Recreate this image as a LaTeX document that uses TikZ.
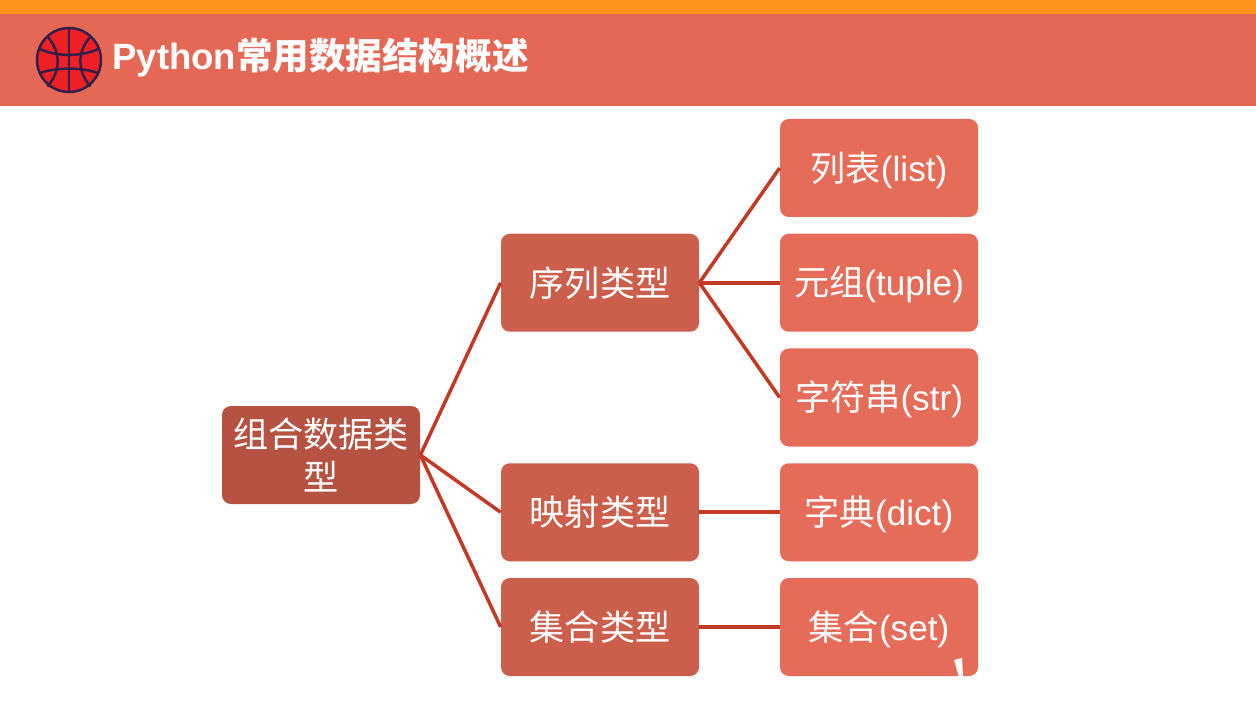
\documentclass[tikz,border=0pt]{standalone}
\usepackage{fontspec}
\usepackage{xcolor}
\setmainfont{Liberation Sans}
\newfontfamily\cjk{Noto Sans CJK SC}
\definecolor{topbar}{HTML}{FF931E}
\definecolor{banner}{HTML}{E56856}
\definecolor{leafcol}{HTML}{E66C5A}
\definecolor{midcol}{HTML}{CB5F4B}
\definecolor{rootcol}{HTML}{B65241}
\definecolor{linecol}{HTML}{C23A26}
\definecolor{ballcol}{HTML}{EE2026}
\definecolor{ballline}{HTML}{2E2048}
\tikzset{
  box/.style={rounded corners=5pt,minimum width=3.96cm,minimum height=1.96cm,inner sep=0pt,
    text=white,font=\fontsize{20}{25}\selectfont,align=center},
  leaf/.style={box,fill=leafcol,text height=18pt,text depth=3pt},
  mid/.style={box,fill=midcol},
  top/.style={box,fill=rootcol},
  branch/.style={draw=linecol,line width=2pt},
  seam/.style={draw=ballline,line width=1.4pt}
}
\begin{document}
\begin{tikzpicture}[auto,node distance=2.295cm]
    \useasboundingbox (0,0) rectangle (25.12,14.14);
    \fill[white] (0,0) rectangle (25.12,14.14);
    \fill[topbar] (0,13.86) rectangle (25.12,14.14);
    \fill[banner] (0,12.02) rectangle (25.12,13.86);
    % ball
    \fill[ballcol] (1.38,12.94) circle (0.64);
    \draw[seam] (1.38,12.94) circle (0.64);
    \draw[seam] (1.38,13.58) -- (1.38,12.3);
    \draw[seam] (0.78,13.17) .. controls (1.1,13.0) and (1.66,13.0) .. (1.98,13.17);
    \draw[seam] (0.78,12.67) .. controls (1.1,12.8) and (1.66,12.8) .. (1.98,12.67);
    \draw[seam] (0.95,13.41) .. controls (1.22,13.1) and (1.22,12.72) .. (0.95,12.41);
    \draw[seam] (1.81,13.41) .. controls (1.54,13.1) and (1.54,12.72) .. (1.81,12.41);
    \node[anchor=west,inner sep=0pt,text=white,font=\fontsize{20.8}{25}\selectfont\bfseries] (title) at (2.24,12.98) {Python{\cjk\bfseries 常用数据结构概述}};
    % leaves
    \node[leaf] (4) at (17.58,10.78) {{\cjk 列表}(list)};
    \node[leaf] (5) [below of=4] {{\cjk 元组}(tuple)};
    \node[leaf] (6) [below of=5] {{\cjk 字符串}(str)};
    \node[leaf] (7) [below of=6] {{\cjk 字典}(dict)};
    \node[leaf] (8) [below of=7] {{\cjk 集合}(set)};
    \node[mid] (1) [left of=5,node distance=5.58cm] {\cjk 序列类型};
    \node[mid] (2) [left of=7,node distance=5.58cm] {\cjk 映射类型};
    \node[mid] (3) [left of=8,node distance=5.58cm] {\cjk 集合类型};
    \node[top] (0) at (6.42,5.04) {\cjk 组合数据类\\\cjk 型};
    \draw [branch] (0.east) -- (1.west);
    \draw [branch] (0.east) -- (2.west);
    \draw [branch] (0.east) -- (3.west);
    \draw [branch] (1.east) -- (4.west);
    \draw [branch] (1.east) -- (5.west);
    \draw [branch] (1.east) -- (6.west);
    \draw [branch] (2.east) -- (7.west);
    \draw [branch] (3.east) -- (8.west);
    % white nick
    \fill[white] (19.08,0.94) -- (19.24,0.98) -- (19.26,0.6) -- (19.18,0.6) -- cycle;
    \end{tikzpicture}
\end{document}
